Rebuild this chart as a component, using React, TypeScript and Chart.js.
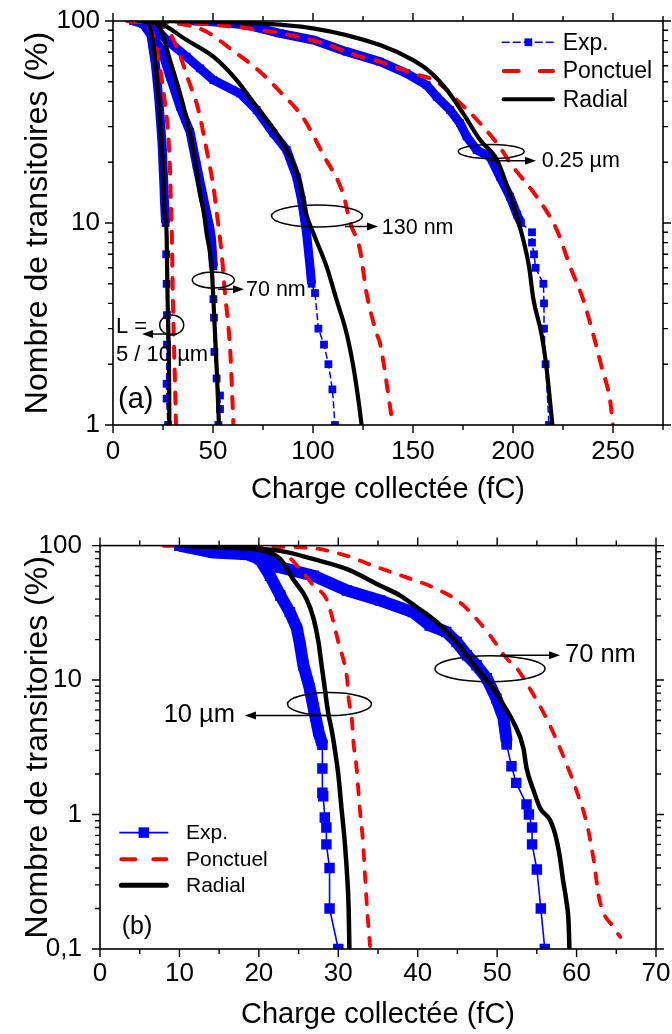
import React, { useEffect, useRef } from 'react';
import { Chart, registerables } from 'chart.js';

Chart.register(...registerables);

const FONT = '"Liberation Sans", Arial, Helvetica, sans-serif';
const BLUE = '#0000ff';
const RED = '#ff0000';
const BLACK = '#000000';

type Pt = [number, number];

// ---------------- Panel (a) ----------------
const xTicksA = [0, 50, 100, 150, 200, 250];
const xLabelsA = ['0', '50', '100', '150', '200', '250'];
const yTicksA = [1, 10, 100];
const yLabelsA = ['1', '10', '100'];

// L = 5 / 10 µm
const expA_L: Pt[] = [[10, 100], [15, 97], [19, 85], [21.3, 60], [23, 40], [24.5, 25], [25.5, 15], [25.7, 13], [26.3, 10], [26.6, 7], [26.8, 5], [27, 3.5], [27, 2.5], [26.8, 1.6], [26.8, 1.35], [27.5, 1]];
const ponA_L: Pt[] = [[7, 100], [18, 93], [21, 79], [23.5, 59], [26, 39], [27.7, 26.7], [28.5, 18.3], [29, 12], [29.5, 8], [29.8, 5], [30.5, 2.5], [31, 1.6], [31.5, 1]];
const radA_L: Pt[] = [[12, 100], [16.8, 98.8], [20.2, 77.5], [21.8, 53], [23.2, 36.3], [24.3, 24.8], [25.2, 16.9], [25.7, 11.6], [26.8, 8.9], [27.3, 4.16], [27.7, 2.85], [28, 1.94], [28.2, 1]];

// 70 nm
const expA_70: Pt[] = [[12, 100], [16.8, 93.7], [24.3, 71.8], [28.5, 53], [33.5, 37.6], [38.5, 28.3], [41.8, 19.4], [45.2, 13.3], [48.5, 9.4], [49.3, 8.2], [50.2, 6.1], [50.2, 4.2], [50.5, 3.4], [50.7, 2.3], [51.8, 1.7], [53.5, 1.4], [53.5, 1.2], [52.7, 1]];
const ponA_70: Pt[] = [[9, 100], [26, 93], [31.8, 74.6], [37.7, 51], [42.7, 36.3], [46.8, 23], [50.2, 15.1], [52, 11], [54.3, 7.08], [56, 4.49], [57.7, 3.06], [58.8, 2.18], [59.7, 1.33], [60.2, 1]];
const radA_70: Pt[] = [[14, 100], [22.7, 95.5], [28.5, 64.1], [33.5, 43.8], [37.7, 30], [41, 20.5], [43.5, 14], [45.2, 11.6], [46.8, 8.9], [49.3, 6.08], [50.2, 4.16], [51, 2.84], [51.8, 1.94], [53, 1]];

// 130 nm
const expA_130: Pt[] = [[15, 100], [20, 95], [26.8, 80.5], [36.8, 66.6], [43.5, 58.3], [50.2, 51], [63.5, 43.8], [71.8, 36.3], [80.2, 27.8], [86.8, 23], [91.8, 16.9], [94.3, 13], [96.8, 8.9], [98.5, 6.1], [99.3, 5], [101, 4.5], [102.7, 3], [105.5, 2.5], [107.7, 2], [109.7, 1.5], [111, 1]];
const ponA_130: Pt[] = [[10, 100], [38, 95], [46.8, 88.5], [58.5, 73.2], [73.5, 56.1], [83.5, 44.7], [95.2, 33], [105.2, 21.7], [115.2, 13.8], [118.5, 10.1], [123.5, 7.35], [126.8, 4.49], [131.8, 2.84], [133.5, 2.54], [139.3, 1.1], [140, 1]];
const radA_130: Pt[] = [[15, 100], [23.5, 97.4], [36.8, 80.5], [50.2, 66.6], [61.8, 51], [71.8, 37.6], [81.8, 27.8], [88.5, 21.3], [93.5, 15.7], [96, 11.6], [100.2, 8.89], [106.8, 6.08], [111.8, 4.16], [116.8, 2.84], [120.2, 1.94], [122.7, 1.33], [124.3, 1]];

// 0.25 µm
const expA_025: Pt[] = [[40, 100], [50, 99.2], [67, 95.5], [83.5, 86.9], [100.2, 80.5], [116.8, 70.5], [133.5, 62.9], [146.8, 55.1], [156.8, 48.2], [161.8, 42.2], [168.5, 36.3], [173.5, 31.2], [176.8, 26.8], [181.8, 23], [188.5, 21.3], [193.5, 16.9], [198.5, 13.5], [202, 11], [204, 10], [209.5, 9], [209.5, 8], [210.5, 7], [211.3, 6], [215.2, 5], [215.5, 4], [215.5, 3], [216.3, 2], [218, 1]];
const ponA_025: Pt[] = [[30, 100], [50, 96], [73.5, 90.3], [90, 84.6], [107, 76.6], [120, 68.4], [133.5, 62.9], [150, 55], [162, 50], [172, 40.6], [182, 32.4], [192, 24.8], [200, 19], [211.8, 13.5], [222, 9.2], [228.5, 6.1], [235, 4.2], [240, 2.84], [244.3, 1.94], [248.5, 1.33], [250, 1]];
const radA_025: Pt[] = [[18, 100], [50, 99.2], [100, 92], [133.5, 76], [150, 64], [158.5, 56], [167, 45.5], [175, 35], [183.5, 25.8], [192, 20.5], [199.3, 13], [204.3, 8.9], [208, 6.1], [210.2, 4.2], [214.3, 2.8], [216.8, 1.9], [219.7, 1]];

// ---------------- Panel (b) ----------------
const xTicksB = [0, 10, 20, 30, 40, 50, 60, 70];
const xLabelsB = ['0', '10', '20', '30', '40', '50', '60', '70'];
const yTicksB = [0.1, 1, 10, 100];
const yLabelsB = ['0,1', '1', '10', '100'];

// 10 µm
const expB_10: Pt[] = [[10, 100], [14.3, 88.8], [18.5, 86.2], [20.1, 79.3], [21.4, 59.7], [22.7, 42.5], [23.9, 32], [24.8, 24.1], [25.2, 18.1], [25.6, 12.9], [26.4, 8.7], [26.9, 6.2], [27.5, 4.15], [28, 3.3], [28, 2.2], [28, 1.45], [28.1, 1.37], [28.3, 0.95], [28.5, 0.8], [28.5, 0.6], [28.9, 0.4], [28.9, 0.2], [30, 0.1]];
const ponB_10: Pt[] = [[8, 100], [21.4, 99.5], [23.5, 85], [25.2, 66.8], [26.9, 50.3], [28.5, 40.1], [29.4, 27], [30, 19.2], [30.6, 14.5], [31.1, 10.3], [31.3, 7.31], [31.7, 5.2], [31.9, 3.5], [32.3, 2.22], [32.7, 1.12], [33.1, 0.637], [33.4, 0.324], [33.7, 0.173], [34, 0.105]];
const radB_10: Pt[] = [[10, 100], [16.4, 96.6], [20.6, 91.4], [22.7, 79.3], [24.3, 56.4], [26, 40.1], [26.9, 28.5], [27.5, 19.2], [27.9, 12.9], [28.3, 8.67], [28.7, 5.83], [29.2, 4.15], [29.6, 2.95], [30, 1.99], [30.4, 1.12], [30.8, 0.637], [31.1, 0.362], [31.3, 0.205], [31.4, 0.1]];

// 70 nm
const expB_70: Pt[] = [[10, 100], [15, 97], [20.1, 88.8], [22.7, 68.8], [26.9, 59.7], [31.1, 46.3], [35.3, 39], [39.4, 32], [41.5, 25.5], [43.6, 22.8], [44.9, 19.2], [46.2, 15.3], [47.4, 12.9], [48.7, 10.3], [49.9, 7.31], [50.8, 5.2], [51.2, 3.5], [51.2, 3.31], [51.8, 2.29], [52.4, 1.72], [53.7, 1.19], [54, 1], [54.4, 0.8], [54.4, 0.6], [55, 0.39], [55.5, 0.2], [56, 0.1]];
const ponB_70: Pt[] = [[8, 100], [26, 96.6], [31.1, 83.9], [34.4, 70.8], [38.6, 58], [42.4, 47.6], [45.3, 37.9], [47.4, 28.5], [49.1, 21.5], [51.2, 14.5], [52.5, 12.2], [54.1, 8.67], [56.2, 5.2], [57.9, 3.13], [60, 1.5], [61.3, 0.85], [62.1, 0.481], [62.9, 0.23], [64.6, 0.146], [65.5, 0.123]];
const radB_70: Pt[] = [[10, 100], [16.4, 97], [22.7, 91.4], [26.9, 79.3], [31.1, 66.8], [35.3, 50.3], [37.8, 42.5], [39.9, 34.8], [42.4, 27], [44.5, 20.3], [46.2, 15.3], [47.8, 11.5], [49.5, 8.67], [50.8, 6.53], [52, 4.92], [53.3, 3.13], [53.7, 2.22], [54.6, 1.5], [55.4, 1.12], [56.7, 0.9], [57.3, 0.716], [57.9, 0.481], [58.3, 0.324], [58.7, 0.23], [59, 0.155], [59.1, 0.1]];

const legendLabels = ['Exp.', 'Ponctuel', 'Radial'];

// ---------------- helpers ----------------
const xy = (a: Pt[]) => a.map(([x, y]) => ({ x, y }));

interface ExpStyle { thin: number; band: number; r: number; dash: number[]; }

function expDataset(label: string, data: Pt[], dense: number, st: ExpStyle) {
  return {
    label,
    data: xy(data),
    order: 3,
    borderColor: BLUE,
    backgroundColor: BLUE,
    borderWidth: st.thin,
    borderDash: st.dash,
    borderJoinStyle: 'bevel',
    pointStyle: 'rect',
    pointRadius: st.r,
    pointBackgroundColor: BLUE,
    pointBorderWidth: 0,
    tension: 0,
    segment: {
      borderWidth: (c: any) => (c.p1.parsed.y >= dense ? st.band : st.thin),
      borderDash: (c: any) => (c.p1.parsed.y >= dense ? [] : st.dash),
    },
  };
}

function ponDataset(label: string, data: Pt[], w: number, dash: number[]) {
  return {
    label,
    data: xy(data),
    order: 2,
    borderColor: RED,
    borderWidth: w,
    borderDash: dash,
    borderCapStyle: 'round',
    pointRadius: 0,
    cubicInterpolationMode: 'monotone',
  };
}

function radDataset(label: string, data: Pt[], w: number) {
  return {
    label,
    data: xy(data),
    order: 1,
    borderColor: BLACK,
    borderWidth: w,
    borderJoinStyle: 'round',
    pointRadius: 0,
    cubicInterpolationMode: 'monotone',
  };
}

function frameTicks(xMinor: number, xMajor: number) {
  return {
    id: 'frameTicks',
    afterDatasetsDraw(chart: any) {
      const { ctx, chartArea: a, scales } = chart;
      const x = scales.x;
      const y = scales.y;
      ctx.save();
      ctx.strokeStyle = BLACK;
      ctx.lineWidth = 1.6;
      ctx.setLineDash([]);
      ctx.strokeRect(a.left, a.top, a.right - a.left, a.bottom - a.top);
      ctx.lineWidth = 1.4;
      ctx.beginPath();
      const n = Math.round((x.max - x.min) / xMinor);
      for (let i = 0; i <= n; i++) {
        const v = x.min + i * xMinor;
        const q = v / xMajor;
        const L = Math.abs(q - Math.round(q)) < 1e-6 ? 8 : 5;
        const px = x.getPixelForValue(v);
        ctx.moveTo(px, a.bottom);
        ctx.lineTo(px, a.bottom + L);
        ctx.moveTo(px, a.top);
        ctx.lineTo(px, a.top - L);
      }
      const e0 = Math.floor(Math.log10(y.min) + 1e-9);
      const e1 = Math.ceil(Math.log10(y.max) - 1e-9);
      for (let e = e0; e <= e1; e++) {
        for (let m = 1; m <= 9; m++) {
          const v = m * Math.pow(10, e);
          if (v < y.min * 0.999 || v > y.max * 1.001) continue;
          const L = m === 1 ? 8 : 5;
          const py = y.getPixelForValue(v);
          ctx.moveTo(a.left, py);
          ctx.lineTo(a.left - L, py);
          ctx.moveTo(a.right, py);
          ctx.lineTo(a.right + L, py);
        }
      }
      ctx.stroke();
      ctx.restore();
    },
  };
}

type Ann =
  | { type: 'ellipse'; x: number; y: number; rx: number; ry: number }
  | { type: 'arrow'; x1: number; y1: number; x2: number; y2: number }
  | { type: 'text'; x: number; y: number; text: string; size: number; align?: string };

function annotations(items: Ann[]) {
  return {
    id: 'annotations',
    afterDatasetsDraw(chart: any) {
      const { ctx, scales } = chart;
      const X = (v: number) => scales.x.getPixelForValue(v);
      const Y = (v: number) => scales.y.getPixelForValue(v);
      ctx.save();
      ctx.strokeStyle = BLACK;
      ctx.fillStyle = BLACK;
      ctx.setLineDash([]);
      for (const it of items) {
        if (it.type === 'ellipse') {
          ctx.lineWidth = 1.5;
          ctx.beginPath();
          ctx.ellipse(X(it.x), Y(it.y), it.rx, it.ry, 0, 0, Math.PI * 2);
          ctx.stroke();
        } else if (it.type === 'arrow') {
          const x1 = X(it.x1), y1 = Y(it.y1), x2 = X(it.x2), y2 = Y(it.y2);
          const ang = Math.atan2(y2 - y1, x2 - x1);
          const hl = 11, hw = 4;
          const bx = x2 - hl * Math.cos(ang), by = y2 - hl * Math.sin(ang);
          ctx.lineWidth = 1.5;
          ctx.beginPath();
          ctx.moveTo(x1, y1);
          ctx.lineTo(bx, by);
          ctx.stroke();
          ctx.beginPath();
          ctx.moveTo(x2, y2);
          ctx.lineTo(bx + hw * Math.sin(ang), by - hw * Math.cos(ang));
          ctx.lineTo(bx - hw * Math.sin(ang), by + hw * Math.cos(ang));
          ctx.closePath();
          ctx.fill();
        } else {
          ctx.font = `${it.size}px ${FONT}`;
          ctx.textAlign = (it.align || 'left') as CanvasTextAlign;
          ctx.textBaseline = 'middle';
          ctx.fillText(it.text, X(it.x), Y(it.y));
        }
      }
      ctx.restore();
    },
  };
}

interface LegendSpec {
  x0: number; x1: number; tx: number; rows: number[]; size: number;
  exp: ExpStyle; expDash: number[]; ponW: number; ponDash: number[]; radW: number;
}

function customLegend(s: LegendSpec) {
  return {
    id: 'customLegend',
    afterDatasetsDraw(chart: any) {
      const { ctx, chartArea: a } = chart;
      const x0 = a.left + s.x0, x1 = a.left + s.x1;
      ctx.save();
      s.rows.forEach((dy, i) => {
        const y = a.top + dy;
        ctx.beginPath();
        if (i === 0) {
          ctx.strokeStyle = BLUE;
          ctx.lineWidth = s.exp.thin;
          ctx.lineCap = 'butt';
          ctx.setLineDash(s.expDash);
          ctx.moveTo(x0, y);
          ctx.lineTo(x1, y);
          ctx.stroke();
          const side = Math.SQRT2 * s.exp.r;
          ctx.fillStyle = BLUE;
          ctx.fillRect((x0 + x1) / 2 - side / 2, y - side / 2, side, side);
        } else if (i === 1) {
          ctx.strokeStyle = RED;
          ctx.lineWidth = s.ponW;
          ctx.lineCap = 'round';
          ctx.setLineDash(s.ponDash);
          ctx.moveTo(x0 + 2, y);
          ctx.lineTo(x1 - 2, y);
          ctx.stroke();
        } else {
          ctx.strokeStyle = BLACK;
          ctx.lineWidth = s.radW;
          ctx.lineCap = 'round';
          ctx.setLineDash([]);
          ctx.moveTo(x0 + 2, y);
          ctx.lineTo(x1 - 2, y);
          ctx.stroke();
        }
        ctx.setLineDash([]);
        ctx.fillStyle = BLACK;
        ctx.font = `${s.size}px ${FONT}`;
        ctx.textAlign = 'left';
        ctx.textBaseline = 'middle';
        ctx.fillText(legendLabels[i], a.left + s.tx, y + 1);
      });
      ctx.restore();
    },
  };
}

function axisX(min: number, max: number, ticks: number[], labels: string[], height: number, tickPad: number, titlePad: number) {
  return {
    type: 'linear',
    min,
    max,
    afterBuildTicks: (s: any) => { s.ticks = ticks.map((v) => ({ value: v })); },
    afterFit: (s: any) => { s.height = height; },
    grid: { display: false, drawTicks: true, tickLength: 8 },
    border: { display: false },
    ticks: {
      autoSkip: false,
      maxRotation: 0,
      padding: tickPad,
      color: BLACK,
      font: { family: FONT, size: 26 },
      callback: (_v: any, i: number) => labels[i],
    },
    title: {
      display: true,
      text: 'Charge collectée (fC)',
      color: BLACK,
      font: { family: FONT, size: 29 },
      padding: { top: 0, bottom: titlePad },
    },
  };
}

function axisY(min: number, max: number, ticks: number[], labels: string[], width: number, tickPad: number, title: string, titlePad: number) {
  return {
    type: 'logarithmic',
    min,
    max,
    afterBuildTicks: (s: any) => { s.ticks = ticks.map((v) => ({ value: v })); },
    afterFit: (s: any) => { s.width = width; },
    grid: { display: false, drawTicks: true, tickLength: 8 },
    border: { display: false },
    ticks: {
      autoSkip: false,
      padding: tickPad,
      color: BLACK,
      font: { family: FONT, size: 26 },
      callback: (_v: any, i: number) => labels[i],
    },
    title: {
      display: true,
      text: title,
      color: BLACK,
      font: { family: FONT, size: 32 },
      padding: { top: titlePad, bottom: 0 },
    },
  };
}

const expStyleA: ExpStyle = { thin: 1.5, band: 9, r: 5.5, dash: [7, 3] };
const expStyleB: ExpStyle = { thin: 1.6, band: 12, r: 7.4, dash: [] };

function configA(): any {
  const groups = [
    { exp: expA_L, pon: ponA_L, rad: radA_L, dense: 9 },
    { exp: expA_70, pon: ponA_70, rad: radA_70, dense: 6 },
    { exp: expA_130, pon: ponA_130, rad: radA_130, dense: 5 },
    { exp: expA_025, pon: ponA_025, rad: radA_025, dense: 10 },
  ];
  const datasets: any[] = [];
  groups.forEach((g) => {
    datasets.push(radDataset(legendLabels[2], g.rad, 4.2));
    datasets.push(ponDataset(legendLabels[1], g.pon, 4, [11, 12]));
    datasets.push(expDataset(legendLabels[0], g.exp, g.dense, expStyleA));
  });
  const ann: Ann[] = [
    { type: 'ellipse', x: 189.1, y: 22.6, rx: 33, ry: 7 },
    { type: 'arrow', x1: 188.5, y1: 20.34, x2: 211.5, y2: 20.34 },
    { type: 'text', x: 214.4, y: 20.34, text: '0.25 µm', size: 21.5 },
    { type: 'ellipse', x: 102, y: 10.83, rx: 45.5, ry: 11 },
    { type: 'arrow', x1: 116, y1: 9.61, x2: 132.5, y2: 9.61 },
    { type: 'text', x: 134.4, y: 9.45, text: '130 nm', size: 21.5 },
    { type: 'ellipse', x: 50.15, y: 5.22, rx: 21, ry: 8 },
    { type: 'arrow', x1: 52.5, y1: 4.7, x2: 65.5, y2: 4.7 },
    { type: 'text', x: 66.5, y: 4.66, text: '70 nm', size: 21.5 },
    { type: 'ellipse', x: 29.35, y: 3.13, rx: 12, ry: 10 },
    { type: 'arrow', x1: 32, y1: 2.82, x2: 14.5, y2: 2.82 },
    { type: 'text', x: 1.5, y: 3.06, text: 'L =', size: 22 },
    { type: 'text', x: 1.5, y: 2.22, text: '5 / 10 µm', size: 22 },
    { type: 'text', x: 2.5, y: 1.33, text: '(a)', size: 29 },
  ];
  return {
    type: 'line',
    data: { datasets },
    options: {
      animation: false,
      responsive: false,
      events: [],
      layout: { padding: { top: 21, right: 9, left: 0, bottom: 0 } },
      plugins: { legend: { display: false }, tooltip: { enabled: false } },
      scales: {
        x: axisX(0, 275, xTicksA, xLabelsA, 95, 3, 13),
        y: axisY(1, 100, yTicksA, yLabelsA, 113, 5, 'Nombre de transitoires (%)', 19),
      },
    },
    plugins: [
      frameTicks(25, 50),
      annotations(ann),
      customLegend({
        x0: 388.7, x1: 442, tx: 449.7, rows: [21.3, 50, 78.3], size: 23,
        exp: expStyleA, expDash: [8, 3], ponW: 4, ponDash: [15, 21], radW: 4,
      }),
    ],
  };
}

function configB(): any {
  const groups = [
    { exp: expB_10, pon: ponB_10, rad: radB_10, dense: 3 },
    { exp: expB_70, pon: ponB_70, rad: radB_70, dense: 3.4 },
  ];
  const datasets: any[] = [];
  groups.forEach((g) => {
    datasets.push(radDataset(legendLabels[2], g.rad, 4.5));
    datasets.push(ponDataset(legendLabels[1], g.pon, 3.8, [10, 12]));
    datasets.push(expDataset(legendLabels[0], g.exp, g.dense, expStyleB));
  });
  const ann: Ann[] = [
    { type: 'ellipse', x: 28.89, y: 6.63, rx: 42, ry: 11.5 },
    { type: 'arrow', x1: 28.7, y1: 5.45, x2: 18.25, y2: 5.45 },
    { type: 'text', x: 17.0, y: 5.54, text: '10 µm', size: 25.5, align: 'right' },
    { type: 'ellipse', x: 49.1, y: 12.13, rx: 55, ry: 13 },
    { type: 'arrow', x1: 50.36, y1: 15.31, x2: 57.91, y2: 15.31 },
    { type: 'text', x: 58.54, y: 15.31, text: '70 nm', size: 25.5 },
    { type: 'text', x: 2.73, y: 0.146, text: '(b)', size: 25 },
  ];
  return {
    type: 'line',
    data: { datasets },
    options: {
      animation: false,
      responsive: false,
      events: [],
      layout: { padding: { top: 23, right: 16, left: 0, bottom: 0 } },
      plugins: { legend: { display: false }, tooltip: { enabled: false } },
      scales: {
        x: axisX(0, 70, xTicksB, xLabelsB, 85, 1, 2),
        y: axisY(0.1, 100, yTicksB, yLabelsB, 100, 10, 'Nombre de transitories (%)', 19),
      },
    },
    plugins: [
      frameTicks(5, 10),
      annotations(ann),
      customLegend({
        x0: 19.3, x1: 68.3, tx: 86, rows: [287, 313.7, 339.7], size: 21,
        exp: expStyleB, expDash: [], ponW: 4, ponDash: [14, 18], radW: 5,
      }),
    ],
  };
}

function Panel({ top, height, build }: { top: number; height: number; build: () => any }) {
  const ref = useRef<HTMLCanvasElement>(null);
  useEffect(() => {
    const chart = new Chart(ref.current as HTMLCanvasElement, build());
    return () => chart.destroy();
  }, []);
  return (
    <canvas
      ref={ref}
      width={672}
      height={height}
      style={{ position: 'absolute', left: 0, top, width: 672, height }}
    />
  );
}

export default function App() {
  return (
    <div style={{ position: 'absolute', left: 0, top: 0, width: 672, height: 1034, background: '#fff' }}>
      <Panel top={0} height={520} build={configA} />
      <Panel top={520} height={514} build={configB} />
    </div>
  );
}
